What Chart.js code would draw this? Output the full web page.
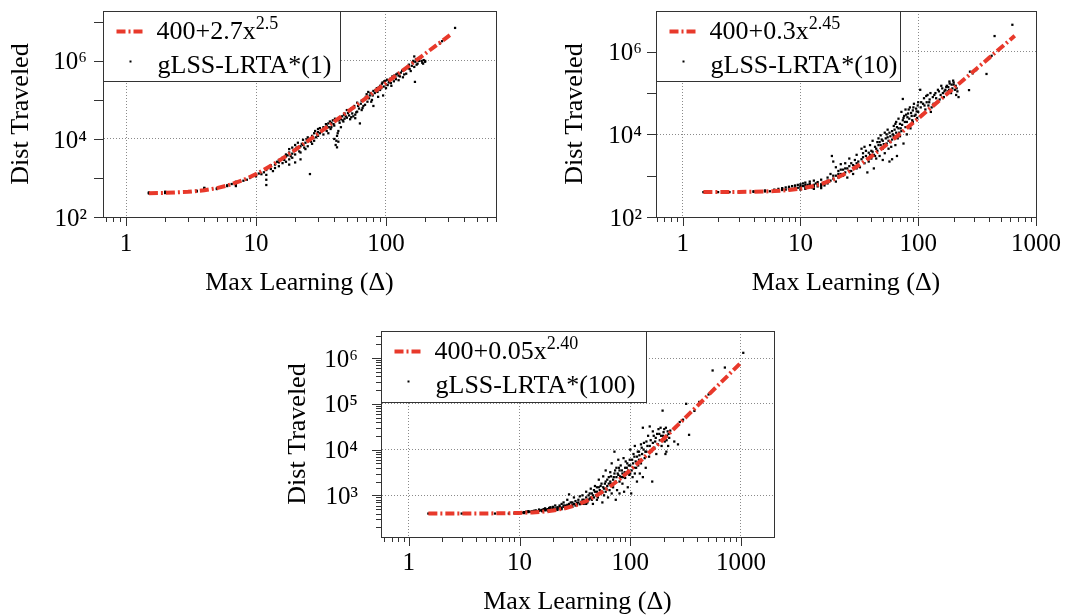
<!DOCTYPE html>
<html>
<head>
<meta charset="utf-8">
<script src="https://cdn.jsdelivr.net/npm/chart.js@4.4.1/dist/chart.umd.min.js"></script>
<style>
  html, body { margin: 0; padding: 0; background: #fff; }
  #wrap { position: relative; width: 1079px; height: 615px; overflow: hidden; }
  canvas { position: absolute; }
</style>
</head>
<body>
<div id="wrap">
  <canvas id="c1" width="520" height="300" style="left:0;top:0"></canvas>
  <canvas id="c2" width="539" height="300" style="left:540px;top:0"></canvas>
  <canvas id="c3" width="520" height="315" style="left:280px;top:300px"></canvas>
</div>
<script>
// scatter points [max learning, dist traveled]
var pontos1 = [
  [1.5,400],[1.5,415],[1.5,425],[2,410],[2,430],[2,445],[3,440],[3.5,450],[3.5,470],[4,470],[4,500],[4,540],[4,560],
  [5,520],[5,545],[5.5,600],[6,620],[6,650],[6.5,700],[7,620],[7,680],[7,760],[7,800],[8,850],[8.5,900],[9,1000],
  [10,1100],[10.5,1300],[11,1250],[11.5,1400],[12,1600],[12,1200],[12,900],[12,660],[12.5,1900],[13,1700],[13,2100],
  [13.5,1500],[14,2200],[14,1800],[15,2500],[15,2900],[15,2000],
  [16,3300],[16,2400],[17,4000],[17,2600],[17,3500],[18,4500],[18,3000],[18,5500],[18,2200],[19,4200],[19,6000],
  [19,3300],[20,5000],[20,7000],[20,4000],[20,2500],[21,5800],[21,8000],[22,6500],[22,4500],[22,3000],[23,7000],
  [23,9500],[24,8000],[24,5500],[25,9000],[25,11000],[25,6500],[26,1260],[26,10000],[27,12000],[27,7500],[28,14000],
  [28,9000],[29,11000],[30,15000],[30,12000],[30,18000],
  [32,16000],[33,20000],[33,13000],[34,19000],[35,22000],[35,16000],[36,25000],[36,14000],[38,26000],[38,20000],
  [39,30000],[40,22000],[40,10000],[41,7000],[42,6100],[42,12000],[43,8500],[43,16000],[44,26000],[45,32000],
  [45,20000],[46,38000],[47,28000],[48,45000],[48,33000],[50,35000],[50,55000],
  [52,40000],[53,32000],[54,60000],[55,45000],[56,38000],[57,70000],[58,42000],[60,50000],[60,85000],[62,60000],
  [63,25000],[65,95000],[65,55000],[67,70000],[70,120000],[72,90000],[73,160000],[75,130000],[78,100000],
  [80,170000],[80,70000],
  [82,150000],[85,200000],[87,120000],[90,230000],[90,180000],[93,260000],[95,130000],[97,300000],[100,250000],
  [100,200000],[102,330000],[105,280000],[108,350000],[110,230000],[112,400000],[115,300000],[118,380000],
  [120,450000],[125,420000],[125,320000],[130,500000],[135,380000],
  [140,600000],[143,470000],[148,650000],[150,800000],[155,550000],[160,900000],[165,1300000],[165,700000],
  [167,290000],[170,1100000],[175,850000],[180,1000000],[185,1200000],[190,900000],[195,1050000],[200,950000],
  [200,1000000],[260,2800000],[270,3200000],[340,7000000],
  [14.5,2600],[15.5,3000],[16.5,2900],[17.5,3800],[18.5,3600],[19.5,5000],[20.5,6000],[21.5,4800],[22.5,7500],
  [23.5,6000],[24.5,9800],[26.5,8500],[27.5,11000],[28.5,16000],[29.5,13000],[31,14000],[31,19000],[33.5,17000],
  [34.5,24000],[36.5,20000],[37,28000],[37.5,18000],[39.5,24000],[40.5,33000],[41.5,9000],[42.5,14000],
  [43.5,30000],[44.5,36000],[46.5,30000],[47.5,42000],[49,38000],[51,46000],[53,52000],[54,36000],[56,62000],
  [58,34000],[59,48000],[61,70000],[64,80000],[66,62000],[68,100000],[69,75000],[71,140000],[74,110000],
  [76,150000],[77,90000],[79,130000],[83,180000],[86,160000],[88,210000],[92,200000],[94,280000],[96,220000],
  [99,310000],[103,240000],[106,300000],[109,270000],[113,360000],[116,420000],[119,340000],[123,480000],
  [128,400000],[133,560000],[138,450000],[145,700000],[152,620000],[158,750000],[162,1000000],[168,950000],
  [172,800000],[178,1150000],[188,1000000],[193,850000]
];
var pontos10 = [
  [1.5,400],[2,400],[2.5,400],[3,400],[4,405],[4,420],[4.5,410],[5,415],[5,440],[5.5,420],[6,430],[6,460],
  [6.5,440],[6.5,480],[7,450],[7,500],[7.5,460],[7.5,520],[8,470],[8,540],[8.5,480],[8.5,560],[9,500],[9,580],
  [9.5,510],[9.5,600],[10,520],[10,620],[10,460],[10.5,560],[10.5,650],[11,540],[11,680],[11,480],[11.5,600],
  [12,560],[12,720],[12,640],[12.5,520],[13,600],[13,760],[13,480],[13.5,650],[14,700],[14,550],[15,620],
  [15,800],[15,500],[16,700],[16,580],
  [17,900],[17,650],[18,1100],[18,760],[18.5,3000],[19,2200],[19,850],[20,1000],[20,1600],[20,720],[21,900],
  [21,1300],[22,1900],[22,1100],[23,1000],[23,1400],[24,2000],[24,1200],[25,900],[25,1500],[26,1700],[26,2600],
  [27,1300],[28,1800],[28,1100],[29,2400],[30,1500],[30,3200],[30,2000],
  [32,1600],[33,4500],[33,2500],[34,3500],[35,2000],[35,5000],[36,3000],[37,1200],[38,3600],[38,2200],[39,5500],
  [40,2600],[40,4000],[41,7000],[42,3200],[42,1500],[43,5000],[44,2600],[45,6500],[45,4000],[46,8000],[47,3000],
  [48,5500],[48,9500],[50,4500],[50,7000],[50,2400],[52,11000],[52,3500],[54,6000],[55,8500],[55,13000],
  [56,4500],[57,2200],[58,9000],[58,6500],[60,12000],[60,7500],[60,2500],
  [62,16000],[62,9000],[64,5500],[65,20000],[65,11000],[66,3000],[68,14000],[68,24000],[70,9000],[70,18000],
  [72,35000],[72,12000],[74,72000],[74,22000],[75,6000],[76,28000],[78,15000],[78,40000],[80,20000],[80,10000],
  [82,32000],[84,24000],[85,45000],[86,14000],[88,28000],[90,38000],[90,20000],[92,55000],[95,30000],[96,42000],
  [98,25000],[100,60000],[100,35000],
  [104,120000],[105,45000],[108,30000],[110,55000],[112,75000],[115,40000],[118,60000],[120,90000],[122,50000],
  [125,70000],[128,35000],[130,45000],[133,80000],[135,55000],[140,100000],[142,75000],[145,60000],[150,110000],
  [152,70000],[155,90000],[160,130000],[162,100000],[165,80000],[170,120000],[175,150000],[178,110000],
  [180,140000],[184,190000],[185,170000],[190,100000],[195,130000],[200,180000],[200,160000],[205,120000],
  [210,90000],[215,110000],[220,80000],
  [270,118000],[275,330000],[290,300000],[310,360000],[380,290000],[400,700000],[420,800000],[445,2400000],
  [630,4500000],
  [7,480],[8,500],[9,520],[10,560],[11,600],[12,600],[13,540],[14,620],[15,560],[16,640],[17,760],[19,1000],
  [21,1100],[22,1400],[24,1500],[26,1300],[27,2000],[29,1700],[31,2200],[34,2800],[36,4000],[37,2600],[39,3200],
  [41,3800],[43,3000],[44,4500],[46,5500],[47,6500],[49,7500],[51,5800],[53,8000],[54,10000],[56,7000],
  [57,11000],[59,5000],[61,10000],[63,13000],[64,18000],[66,15000],[67,8000],[69,11000],[71,14000],[73,17000],
  [75,25000],[77,20000],[79,30000],[81,26000],[83,40000],[87,33000],[89,22000],[91,45000],[93,28000],[97,36000],
  [99,50000],[106,60000],[113,50000],[117,85000],[124,60000],[127,100000],[137,90000],[147,120000],[157,150000],
  [167,110000],[173,140000],[183,120000],[192,160000],[198,200000],[208,150000],[212,130000]
];
var pontos100 = [
  [1.5,400],[2.5,400],[3,400],[4.5,400],[5,400],[6,400],[8,400],[9,405],[10,410],[10,420],
  [10.5,420],[11,430],[11,410],[11.5,440],[12,430],[12,450],[12.5,440],[13,450],[13,420],[13.5,460],[14,440],
  [14,470],[14.5,450],[15,460],[15,490],[15.5,470],[16,480],[16,450],[16.5,500],[17,470],[17,520],[17.5,490],
  [18,500],[18,460],[18.5,530],[19,480],[19,550],[20,500],[20,470],[20,560],
  [21,520],[21,600],[22,480],[22,550],[23,600],[23,520],[24,650],[24,500],[25,560],[25,700],[26,600],[26,520],
  [27,800],[27,580],[28,650],[28,1050],[29,560],[30,700],[30,620],[31,900],[32,600],[32,750],[33,680],[34,800],
  [35,640],[35,950],
  [36,720],[37,1000],[38,800],[38,650],[40,900],[40,1200],[41,700],[42,1000],[43,850],[44,1400],[45,800],
  [45,1100],[46,650],[47,1300],[48,1600],[49,1000],[50,1200],[50,800],[52,1500],[52,2200],[54,1100],[55,1800],
  [56,700],[57,2600],[58,1400],[58,1000],[60,2000],[60,1200],[60,3500],
  [62,1600],[63,900],[64,2500],[65,1300],[66,3200],[67,1800],[68,5000],[68,1100],[70,2200],[70,1500],[72,3000],
  [72,9000],[73,1900],[74,800],[75,4000],[75,2500],[76,1300],[78,6000],[78,2800],[80,2000],[80,3500],[80,1100],
  [82,4500],[83,2500],[85,3000],[85,1800],[87,6500],[88,1200],[90,4000],[90,2400],[92,3000],[94,5000],[95,1500],
  [96,3500],[98,2800],[100,4500],[100,3000],[100,10000],
  [102,1100],[104,6000],[105,2500],[107,8000],[108,4000],[110,3000],[110,12000],[112,5500],[115,2000],[115,7000],
  [118,4500],[120,9000],[120,6000],[122,3000],[125,13000],[125,5000],[128,8000],[130,2500],[130,30000],
  [132,10000],[135,6500],[138,4000],[140,15000],[140,9000],[145,20000],[148,7000],[150,12000],[150,32000],
  [155,9000],[158,2000],[160,14000],[160,25000],
  [165,11000],[170,18000],[172,8000],[175,22000],[178,13000],[180,28000],[185,16000],[190,20000],[192,12000],
  [196,71000],[200,24000],[200,18000],[205,15000],[208,8000],[210,30000],[212,9000],[215,20000],[218,25000],
  [220,12000],[225,18000],[230,26000],[250,15000],[270,13000],[280,40000],
  [300,45000],[320,100000],[340,21000],[380,70000],[420,110000],[510,160000],[555,535000],[716,620000],
  [1050,1300000],
  [11,420],[12,440],[13,430],[14,450],[15,470],[16,460],[17,490],[18,480],[19,510],[20,520],[21,490],[22,520],
  [23,560],[24,540],[25,600],[26,560],[27,620],[28,580],[29,700],[30,560],[31,650],[33,620],[34,700],[36,650],
  [37,800],[39,750],[40,650],[42,800],[43,1100],[44,900],[46,1000],[47,900],[48,1200],[50,1500],[51,900],
  [53,1300],[54,1600],[56,1200],[57,1500],[59,1800],[61,1400],[62,2200],[64,1800],[66,2000],[67,2600],[69,1700],
  [71,2500],[73,3500],[74,2000],[77,3000],[79,4000],[81,2600],[84,3500],[86,2500],[89,3200],[91,5500],[93,4000],
  [97,4500],[99,6000],[103,3500],[106,5000],[109,7000],[113,4000],[117,9000],[121,7500],[127,11000],[133,14000],
  [137,9000],[143,12000],[153,16000],[163,20000],[168,15000],[183,22000],[188,30000],[198,20000],[203,28000],
  [213,16000],[222,22000]
];

// fitted curves, values listed at a few x
var ajusteX1 = [1.5, 2, 3, 4, 5, 6, 8, 10, 13, 16, 20, 25, 32, 40, 50, 65, 80, 100, 130, 160, 200, 250, 310];
var ajusteY1 = [407, 415, 442, 486, 551, 638, 889, 1254, 2045, 3165, 5230, 8838, 16040, 27722, 48130, 92370,
  154956, 270400, 520663, 874706, 1527750, 2668572, 4568880];
var ajusteX10 = [1.5, 2, 3, 4, 5, 6, 8, 10, 13, 16, 20, 25, 32, 40, 50, 65, 80, 100, 130, 160, 200, 250, 320,
  400, 500, 600, 660];
var ajusteY10 = [400.8, 401.6, 404.4, 409, 415.5, 424, 449, 484.5, 560.7, 667.4, 862, 1198, 1862, 2924, 4760,
  8693, 14200, 24230, 45760, 75820, 130600, 225300, 412200, 711800, 1229000, 1921000, 2427000];
var ajusteX100 = [1.5, 3, 5, 8, 10, 13, 16, 20, 25, 32, 40, 50, 65, 80, 100, 130, 160, 200, 250, 320, 400, 500,
  650, 800, 1000];
var ajusteY100 = [400.1, 400.7, 402.4, 407.4, 412.6, 423.6, 438.8, 466.3, 513, 605, 750, 998, 1522, 2246, 3555,
  6318, 10145, 17050, 28855, 51870, 88300, 150550, 282400, 464400, 793000];

// tick labels
var rotulosX1 = [1, 10, 100];
var rotulosX = [1, 10, 100, 1000];
var rotulosY1 = [1e2, 1e4, 1e6];
var rotulosY3 = [1e3, 1e4, 1e5, 1e6];

var VERMELHO = '#e8392b';
var SUP = ['⁰', '¹', '²', '³', '⁴', '⁵', '⁶', '⁷', '⁸', '⁹'];

Chart.defaults.font.family = "'Liberation Serif', 'Times New Roman', serif";
Chart.defaults.color = '#000';

function ehDecada(v) {
  var l = Math.log10(v);
  return Math.abs(l - Math.round(l)) < 1e-9;
}
function temRotulo(lista, v) {
  return lista.some(function (r) { return Math.abs(r - v) / r < 1e-9; });
}
function ticksLog(min, max, menores) {
  var out = [];
  for (var e = Math.floor(Math.log10(min)); e <= Math.ceil(Math.log10(max)); e++) {
    for (var k = 1; k <= (menores ? 9 : 1); k++) {
      var v = k * Math.pow(10, e);
      if (v >= min && v <= max) out.push({ value: v });
    }
  }
  return out;
}
function potencia(v) {
  return '10' + String(Math.round(Math.log10(v))).split('').map(function (d) { return SUP[+d]; }).join('');
}

// frame, outward tick marks and the boxed legend
var molduraPlugin = {
  id: 'moldura',
  afterDraw: function (chart) {
    var ctx = chart.ctx, a = chart.chartArea;
    var sx = chart.scales.x, sy = chart.scales.y;
    ctx.save();
    ctx.strokeStyle = '#333';
    ctx.lineWidth = 1;
    ctx.beginPath();
    sx.ticks.forEach(function (t) {
      var px = Math.round(sx.getPixelForValue(t.value)) + 0.5;
      ctx.moveTo(px, a.bottom);
      ctx.lineTo(px, a.bottom + (ehDecada(t.value) ? 9 : 5));
    });
    sy.ticks.forEach(function (t) {
      var py = Math.round(sy.getPixelForValue(t.value)) + 0.5;
      ctx.moveTo(a.left, py);
      ctx.lineTo(a.left - (ehDecada(t.value) ? 9 : 5), py);
    });
    ctx.stroke();
    ctx.strokeRect(Math.round(a.left) + 0.5, Math.round(a.top) + 0.5,
      Math.round(a.right - a.left), Math.round(a.bottom - a.top));

    var o = chart.options.plugins.moldura;
    var x0 = Math.round(a.left) + 0.5, y0 = Math.round(a.top) + 0.5;
    ctx.fillStyle = '#fff';
    ctx.fillRect(x0, y0, o.largura, o.altura);
    ctx.strokeRect(x0, y0, o.largura, o.altura);

    ctx.strokeStyle = VERMELHO;
    ctx.lineWidth = 4;
    ctx.setLineDash([9, 3, 2, 3]);
    ctx.beginPath();
    ctx.moveTo(x0 + 13, y0 + 20);
    ctx.lineTo(x0 + 41, y0 + 20);
    ctx.stroke();
    ctx.setLineDash([]);
    ctx.fillStyle = '#000';
    ctx.fillRect(x0 + 26, y0 + 49, 2, 2);

    ctx.textBaseline = 'alphabetic';
    ctx.textAlign = 'left';
    ctx.font = "26px 'Liberation Serif'";
    ctx.fillText(o.base, x0 + 53, y0 + 27);
    var w = ctx.measureText(o.base).width;
    ctx.font = "18px 'Liberation Serif'";
    ctx.fillText(o.expoente, x0 + 53 + w, y0 + 17);
    ctx.font = "26px 'Liberation Serif'";
    ctx.fillText(o.nome, x0 + 54, y0 + 61);
    ctx.restore();
  }
};

// keep the plot box where it is: no extra room for half labels
function semSobra(s) {
  s.paddingTop = 0;
  s.paddingBottom = 0;
  s.paddingLeft = 0;
  s.paddingRight = 0;
}

function painel(id, p) {
  var dadosAjuste = p.ajusteX.map(function (x, i) { return { x: x, y: p.ajusteY[i] }; });
  var dadosPontos = p.pontos.map(function (q) { return { x: q[0], y: q[1] }; });
  return new Chart(document.getElementById(id), {
    type: 'scatter',
    data: {
      datasets: [{
        label: p.base + p.expoente,
        data: dadosAjuste,
        showLine: true,
        borderColor: VERMELHO,
        borderWidth: 4,
        borderDash: [9, 3, 2, 3],
        pointRadius: 0,
        fill: false
      }, {
        label: p.nome,
        data: dadosPontos,
        pointStyle: 'rect',
        pointRadius: 1.6,
        backgroundColor: '#000',
        borderWidth: 0
      }]
    },
    options: {
      responsive: false,
      animation: false,
      layout: { padding: { left: 0, bottom: 0, top: p.topo, right: p.direita } },
      plugins: {
        legend: { display: false },
        tooltip: { enabled: false },
        moldura: { largura: p.largura, altura: p.altura, base: p.base, expoente: p.expoente, nome: p.nome }
      },
      scales: {
        x: {
          type: 'logarithmic',
          min: p.xMin, max: p.xMax,
          afterBuildTicks: function (s) { s.ticks = ticksLog(p.xMin, p.xMax, true); },
          afterFit: function (s) { s.height = p.alturaX; semSobra(s); },
          ticks: {
            autoSkip: false, maxRotation: 0, padding: p.padX,
            font: { size: 25 }, color: '#000',
            callback: function (v) { return temRotulo(p.rotulosX, v) ? String(v) : ''; }
          },
          grid: {
            drawTicks: false,
            lineWidth: 1,
            color: function (c) { return c.tick && temRotulo(p.rotulosX, c.tick.value) ? '#8a8a8a' : 'rgba(0,0,0,0)'; }
          },
          border: { color: '#333', width: 1, dash: [1, 2] },
          title: { display: true, text: 'Max Learning (Δ)', color: '#000', font: { size: 26, lineHeight: 1 }, padding: p.tituloX }
        },
        y: {
          type: 'logarithmic',
          min: p.yMin, max: p.yMax,
          afterBuildTicks: function (s) { s.ticks = ticksLog(p.yMin, p.yMax, p.menoresY); },
          afterFit: function (s) { s.width = p.larguraY; semSobra(s); },
          ticks: {
            autoSkip: false, padding: p.padY, labelOffset: 2,
            font: { size: 25 }, color: '#000',
            callback: function (v) { return temRotulo(p.rotulosY, v) ? potencia(v) : ''; }
          },
          grid: {
            drawTicks: false,
            lineWidth: 1,
            color: function (c) { return c.tick && temRotulo(p.rotulosY, c.tick.value) ? '#8a8a8a' : 'rgba(0,0,0,0)'; }
          },
          border: { color: '#333', width: 1, dash: [1, 2] },
          title: { display: true, text: 'Dist Traveled', color: '#000', font: { size: 26, lineHeight: 1 }, padding: p.tituloY }
        }
      }
    },
    plugins: [molduraPlugin]
  });
}

var chart1 = painel('c1', {
  pontos: pontos1, ajusteX: ajusteX1, ajusteY: ajusteY1,
  base: '400+2.7x', expoente: '2.5', nome: 'gLSS-LRTA*(1)',
  xMin: 0.665, xMax: 702, yMin: 100, yMax: 1.9e7,
  rotulosX: rotulosX1, rotulosY: rotulosY1, menoresY: false,
  topo: 11, direita: 24, larguraY: 103, alturaX: 83,
  padX: 12, padY: 16, tituloX: 4, tituloY: 8,
  largura: 237, altura: 70
});

var chart10 = painel('c2', {
  pontos: pontos10, ajusteX: ajusteX10, ajusteY: ajusteY10,
  base: '400+0.3x', expoente: '2.45', nome: 'gLSS-LRTA*(10)',
  xMin: 0.594, xMax: 1000, yMin: 100, yMax: 9.7e6,
  rotulosX: rotulosX, rotulosY: rotulosY1, menoresY: false,
  topo: 11, direita: 43, larguraY: 116, alturaX: 83,
  padX: 12, padY: 14, tituloX: 4, tituloY: 22,
  largura: 244, altura: 70
});

var chart100 = painel('c3', {
  pontos: pontos100, ajusteX: ajusteX100, ajusteY: ajusteY100,
  base: '400+0.05x', expoente: '2.40', nome: 'gLSS-LRTA*(100)',
  xMin: 0.56, xMax: 1990, yMin: 123, yMax: 3.9e6,
  rotulosX: rotulosX, rotulosY: rotulosY3, menoresY: true,
  topo: 31, direita: 26, larguraY: 101, alturaX: 78,
  padX: 11, padY: 23, tituloX: 0, tituloY: 5,
  largura: 265, altura: 71
});
</script>
</body>
</html>
